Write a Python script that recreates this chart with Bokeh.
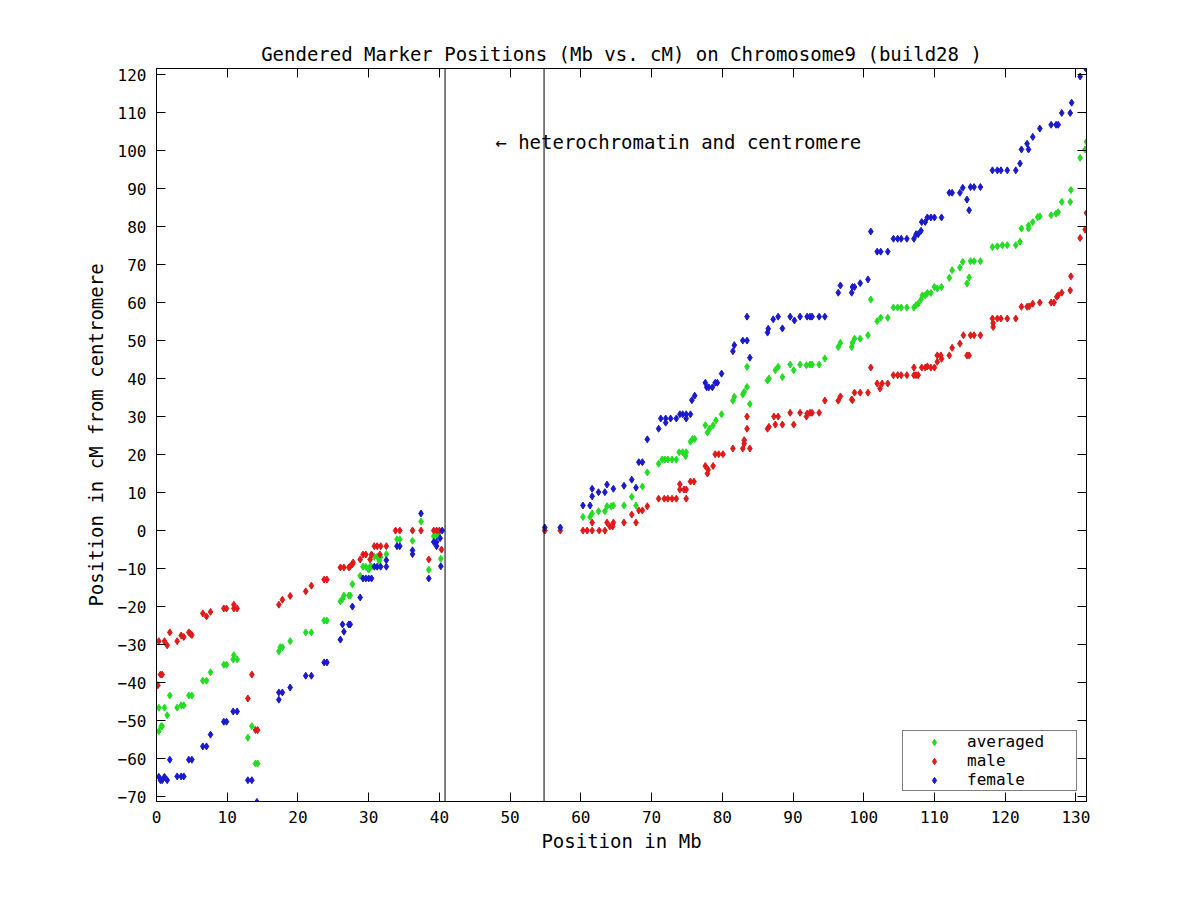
from bokeh.plotting import figure
from bokeh.models import Range1d, FixedTicker, LinearAxis, Span, Label
from bokeh.embed import file_html
from bokeh.resources import INLINE

# ---------------- data ----------------
female_x = [0.33, 0.56, 0.8, 1.13, 1.51, 1.88, 2.92, 3.49, 3.86, 4.57, 5.0, 6.55, 7.07, 7.64,
            9.52, 9.9, 10.84, 11.4, 12.92, 13.48, 14.2, 17.3, 17.3, 17.8, 18.9, 21.1, 21.9,
            23.7, 24.1, 26.0, 26.3, 26.5, 27.2, 27.4, 27.7, 28.8, 29.2, 29.6, 30.0, 30.4,
            30.8, 31.2, 31.7, 32.5, 32.5, 34.0, 34.4, 36.2, 36.2, 37.4, 38.5, 39.2, 39.6,
            39.6, 40.1, 40.2, 40.4,
            54.9, 57.1, 60.3, 61.3, 61.6, 61.6, 62.5, 63.4, 63.7, 64.6, 66.1, 67.2, 67.8,
            68.2, 68.7, 69.4, 71.0, 71.3, 72.0, 72.0, 72.7, 73.5, 74.0, 74.4, 74.9, 74.9,
            75.5, 75.7, 76.1, 77.6, 77.8, 78.1, 78.6, 79.0, 79.3, 79.9, 81.5, 81.7, 82.9,
            83.5, 83.9, 83.5, 86.4, 86.5, 87.2, 87.9, 88.5, 89.6, 90.2, 91.0, 92.0, 92.4,
            92.7, 93.7, 94.5, 96.4, 96.7, 98.3, 98.4, 98.7, 99.5, 100.6, 101.0, 101.9,
            102.4, 103.4, 104.2, 104.8, 105.3, 106.1, 107.1, 107.4, 107.7, 108.1, 108.2,
            108.7, 109.0, 109.5, 110.0, 111.0, 112.1, 112.5, 113.6, 114.0, 114.6, 114.9,
            115.1, 115.6, 116.5, 118.2, 118.9, 119.4, 120.3, 121.5, 122.1, 122.3, 123.3,
            123.1, 123.9, 124.9, 126.5, 127.2, 127.5, 128.0, 129.2, 129.4, 130.6, 131.4]
female_y = [-64.8, -65.7, -65.7, -64.8, -65.7, -60.3, -64.7, -64.7, -64.7, -60.3, -60.3, -56.8,
            -56.8, -53.7, -50.3, -50.3, -47.6, -47.6, -65.7, -65.7, -71.4, -44.5, -42.6,
            -42.6, -41.3, -38.2, -38.2, -34.7, -34.7, -28.7, -24.7, -26.6, -24.7, -24.7,
            -20.0, -17.6, -12.6, -12.6, -12.6, -12.6, -9.5, -9.5, -9.5, -9.5, -7.8, -4.1,
            -4.1, -5.2, -6.2, 4.5, -12.6, -3.0, -3.0, -4.1, -2.0, -9.4, 0.0,
            0.8, 0.8, 6.6, 6.6, 11.0, 9.0, 10.1, 10.1, 12.1, 11.0, 11.8, 13.4, 11.3, 18.0,
            18.0, 24.0, 26.8, 29.5, 29.5, 28.4, 29.5, 29.5, 30.6, 30.6, 30.6, 29.5, 30.6,
            34.3, 35.5, 38.9, 37.7, 37.7, 37.7, 38.9, 38.9, 41.3, 47.2, 48.8, 50.0, 50.0,
            45.5, 56.3, 52.1, 53.1, 55.6, 56.3, 53.2, 56.3, 55.3, 56.3, 56.3, 56.3, 56.3,
            56.3, 56.3, 62.6, 64.5, 62.6, 64.1, 64.1, 65.1, 66.1, 78.7, 73.4, 73.4, 73.4,
            76.8, 76.8, 76.8, 76.8, 76.8, 78.0, 78.0, 78.9, 81.2, 81.2, 82.4, 82.4, 82.4,
            82.4, 88.9, 88.9, 88.9, 90.2, 87.1, 84.3, 90.4, 90.4, 90.4, 94.8, 94.8, 94.8,
            94.8, 94.8, 96.6, 100.3, 100.3, 101.8, 103.6, 105.8, 106.8, 106.8, 106.8, 109.9,
            109.9, 112.6, 119.5, 121.6]

averaged_x = [0.33, 0.33, 0.66, 0.8, 1.13, 1.51, 1.88, 2.92, 3.49, 3.86, 4.57, 5.0, 6.55, 7.07,
              7.64, 9.52, 9.9, 10.84, 10.94, 11.4, 12.92, 13.48, 14.0, 14.3, 17.3, 17.5, 17.8,
              18.9, 21.1, 21.9, 23.7, 24.1, 26.0, 26.3, 26.5, 27.2, 27.4, 27.7, 28.8, 29.2,
              29.6, 30.0, 30.2, 30.4, 30.8, 31.2, 31.5, 31.7, 32.5, 34.0, 34.4, 36.2, 37.4,
              38.5, 39.2, 39.6, 39.9, 40.2,
              54.9, 60.3, 61.3, 61.6, 62.5, 63.4, 63.7, 64.3, 64.6, 66.1, 67.2, 67.8, 68.7,
              69.4, 71.0, 71.5, 71.9, 72.3, 72.9, 73.5, 73.9, 74.4, 74.8, 74.9, 75.5, 75.8,
              76.1, 77.6, 77.9, 78.2, 78.7, 79.1, 79.9, 81.5, 81.7, 82.9, 83.1, 83.5, 83.5,
              83.9, 86.4, 86.6, 87.5, 87.9, 88.5, 89.6, 90.1, 91.0, 91.9, 92.4, 92.7, 93.7,
              94.5, 96.4, 96.7, 98.3, 98.4, 98.7, 99.5, 100.6, 101.0, 101.9, 102.4, 103.4,
              104.2, 104.8, 105.3, 106.1, 107.1, 107.4, 107.7, 108.1, 108.3, 108.7, 109.0,
              109.5, 110.0, 110.4, 111.0, 112.1, 112.5, 113.6, 114.0, 114.6, 114.9, 115.1,
              115.6, 116.5, 118.2, 118.9, 119.6, 120.3, 121.5, 122.1, 122.3, 123.3, 123.3,
              123.9, 124.6, 124.9, 126.5, 127.2, 127.5, 128.0, 129.2, 129.3, 130.6, 131.3,
              131.5]
averaged_y = [-46.6, -52.8, -51.5, -51.5, -46.6, -48.6, -43.4, -46.6, -46.0, -46.0, -43.4,
              -43.4, -39.5, -39.5, -37.3, -35.3, -35.3, -33.9, -32.8, -33.9, -54.5, -51.5,
              -61.3, -61.3, -31.8, -30.7, -30.7, -29.1, -26.8, -26.8, -23.7, -23.7, -18.6,
              -18.0, -17.1, -17.1, -17.1, -14.1, -11.9, -9.5, -9.5, -10.3, -9.5, -9.5, -6.9,
              -6.9, -8.0, -6.9, -6.2, -2.3, -2.3, -2.7, 2.4, -10.3, -1.5, -1.5, -0.8, -7.4,
              0.0, 3.6, 3.6, 4.5, 5.1, 5.1, 6.4, 6.4, 6.6, 6.6, 8.9, 6.6, 11.6, 15.3, 17.6,
              18.7, 18.7, 18.7, 18.7, 18.7, 20.6, 20.6, 19.6, 20.6, 23.4, 24.1, 24.1, 27.7,
              25.8, 26.8, 27.7, 29.0, 30.6, 34.2, 35.2, 35.8, 36.5, 37.8, 43.1, 33.3, 39.5,
              40.0, 42.2, 43.1, 40.4, 43.7, 42.2, 43.7, 43.5, 43.7, 43.7, 43.7, 45.3, 48.3,
              49.4, 48.3, 49.4, 50.5, 50.5, 51.4, 60.8, 55.1, 56.0, 56.0, 58.7, 58.7, 58.7,
              58.7, 58.7, 59.3, 59.7, 60.8, 61.9, 61.9, 62.5, 62.5, 64.1, 63.7, 64.1, 66.5,
              68.5, 69.2, 70.7, 65.0, 66.6, 70.9, 70.9, 70.9, 74.6, 74.8, 75.1, 75.1, 75.1,
              76.0, 79.5, 80.3, 79.5, 81.2, 82.5, 82.7, 83.0, 83.4, 83.8, 86.5, 86.5, 89.6,
              98.1, 100.3, 102.3]

male_x = [0.19, 0.33, 0.56, 0.8, 1.13, 1.51, 1.88, 2.92, 3.49, 3.86, 4.57, 4.81, 5.0, 6.55,
          7.07, 7.64, 9.52, 9.9, 10.94, 10.94, 11.4, 12.92, 13.48, 14.0, 14.3, 17.3, 17.8,
          18.9, 21.1, 21.9, 23.7, 24.1, 26.0, 26.5, 27.2, 27.4, 27.7, 27.8, 28.8, 29.2,
          29.6, 30.2, 30.4, 30.8, 31.2, 31.6, 31.7, 32.5, 33.8, 34.4, 36.2, 37.4, 38.5,
          39.2, 39.6, 40.0, 40.3,
          54.9, 57.1, 60.3, 60.9, 61.6, 61.6, 62.6, 63.4, 63.7, 64.1, 64.5, 64.6, 66.1,
          67.2, 67.8, 68.2, 68.7, 69.4, 71.0, 71.8, 72.3, 72.9, 73.5, 74.0, 74.0, 74.6,
          74.9, 74.9, 75.5, 76.0, 77.6, 77.9, 78.0, 78.7, 79.0, 79.5, 80.1, 81.5, 82.9,
          83.1, 83.1, 83.5, 83.5, 83.9, 86.4, 86.6, 87.3, 87.5, 87.9, 88.5, 89.6, 90.1,
          91.0, 91.9, 92.0, 92.4, 92.7, 93.7, 94.5, 96.4, 96.7, 98.3, 98.4, 98.7, 99.5,
          100.6, 101.0, 101.9, 102.3, 102.6, 103.4, 104.2, 104.8, 105.3, 106.1, 107.1,
          107.4, 107.7, 107.1, 108.2, 108.7, 109.0, 109.5, 110.0, 110.4, 110.4, 110.9,
          111.0, 112.1, 112.5, 113.6, 114.1, 114.6, 114.9, 115.1, 115.6, 116.5, 118.2,
          118.3, 118.3, 118.9, 119.4, 120.3, 121.5, 122.3, 123.1, 123.4, 123.9, 124.9,
          126.5, 126.9, 127.3, 127.5, 128.0, 129.2, 129.3, 130.6, 131.3, 131.5]
male_y = [-40.7, -29.1, -37.9, -37.9, -29.1, -30.2, -26.8, -29.1, -27.6, -28.0, -26.8, -27.2,
          -27.5, -21.8, -22.6, -21.4, -20.5, -20.5, -19.5, -20.5, -20.5, -44.2, -37.9,
          -52.5, -52.5, -19.5, -18.2, -17.2, -16.0, -14.5, -12.9, -12.9, -9.7, -9.7, -9.7,
          -9.4, -8.9, -8.4, -7.6, -6.3, -6.3, -7.6, -6.3, -4.1, -4.1, -6.3, -4.1, -4.1,
          0.0, 0.0, 0.0, 0.0, -7.6, 0.0, 0.0, 0.0, -5.0,
          0.0, 0.0, 0.0, 0.0, 0.0, 2.1, 0.0, 0.0, 2.1, 1.1, 1.1, 2.1, 2.1, 4.2, 2.1, 5.3,
          5.3, 6.4, 8.4, 8.4, 8.4, 8.4, 8.4, 12.2, 10.8, 10.8, 10.8, 8.4, 12.9, 12.9, 17.0,
          15.0, 16.0, 17.0, 20.1, 20.1, 20.1, 21.6, 21.6, 22.9, 23.8, 26.8, 30.0, 21.6,
          26.8, 27.3, 30.0, 27.9, 30.0, 27.9, 31.0, 27.9, 31.0, 30.0, 30.8, 31.0, 31.0,
          31.0, 34.2, 34.2, 35.3, 34.5, 34.3, 36.3, 36.3, 36.3, 42.9, 38.7, 37.4, 38.7,
          38.7, 40.9, 40.9, 40.9, 40.9, 40.9, 40.9, 40.9, 42.9, 42.9, 42.9, 43.2, 42.9,
          42.9, 44.4, 46.1, 46.1, 45.2, 46.1, 48.1, 49.2, 51.4, 46.1, 46.1, 51.4, 51.4,
          51.4, 55.8, 54.6, 53.6, 55.8, 55.8, 55.8, 55.8, 58.9, 58.9, 59.0, 59.7, 60.0,
          60.0, 60.0, 61.5, 61.9, 62.6, 63.2, 66.9, 77.0, 79.2, 83.6]

x_ticks = [0, 10, 20, 30, 40, 50, 60, 70, 80, 90, 100, 110, 120, 130]
y_ticks = [-70, -60, -50, -40, -30, -20, -10, 0, 10, 20, 30, 40, 50, 60, 70, 80, 90, 100, 110, 120]
centromere_start = 40.8
centromere_end = 54.8
note_x, note_y = 47.9, 102.2

FONT = "DejaVu Sans Mono"
GREEN, RED, BLUE = "#22dd22", "#e01a1a", "#1a1acc"

p = figure(width=1184, height=884, output_backend="svg", toolbar_location=None,
           x_range=Range1d(0, 131.5), y_range=Range1d(-71.3, 121.6),
           min_border_left=156, min_border_right=98, min_border_top=68, min_border_bottom=83,
           title="Gendered Marker Positions (Mb vs. cM) on Chromosome9 (build28 )",
           x_axis_label="Position in Mb", y_axis_label="Position in cM from centromere")

p.grid.visible = False
p.outline_line_color = "black"
p.outline_line_width = 1
p.background_fill_color = "white"
p.border_fill_color = "white"

p.title.align = "center"
p.title.text_font = FONT
p.title.text_font_size = "19px"
p.title.text_font_style = "normal"
p.title.text_color = "black"
p.title.standoff = 7

p.xaxis.ticker = FixedTicker(ticks=x_ticks)
p.yaxis.ticker = FixedTicker(ticks=y_ticks)
for ax in (p.xaxis[0], p.yaxis[0]):
    ax.major_tick_in = 9
    ax.major_tick_out = 0
    ax.minor_tick_in = 0
    ax.minor_tick_out = 0
    ax.axis_line_color = "black"
    ax.major_tick_line_color = "black"
    ax.major_label_text_font = FONT
    ax.major_label_text_font_size = "16px"
    ax.major_label_text_color = "black"
    ax.axis_label_text_font = FONT
    ax.axis_label_text_font_size = "19px"
    ax.axis_label_text_font_style = "normal"
    ax.axis_label_text_color = "black"
p.xaxis.major_label_standoff = 9
p.xaxis.axis_label_standoff = 4
p.yaxis.major_label_standoff = 10
p.yaxis.axis_label_standoff = 8

for loc, ticks in (("above", x_ticks), ("right", y_ticks)):
    ax = LinearAxis(ticker=FixedTicker(ticks=ticks), major_tick_in=9, major_tick_out=0,
                    minor_tick_in=0, minor_tick_out=0,
                    major_label_overrides={t: "" for t in ticks},
                    major_label_standoff=0, axis_line_color="black")
    p.add_layout(ax, loc)

p.scatter(averaged_x, averaged_y, marker="diamond", size=7, color=GREEN, legend_label="averaged")
p.scatter(male_x, male_y, marker="diamond", size=7, color=RED, legend_label="male")
p.scatter(female_x, female_y, marker="diamond", size=7, color=BLUE, legend_label="female")

p.add_layout(Span(location=centromere_start, dimension="height", line_color="black", line_width=1))
p.add_layout(Span(location=centromere_end, dimension="height", line_color="black", line_width=1))
p.add_layout(Label(x=note_x, y=note_y, text="\u2190 heterochromatin and centromere",
                   text_font=FONT, text_font_size="19px", text_baseline="middle",
                   text_color="black"))

lg = p.legend[0]
lg.location = (746, 10)
lg.border_line_color = "black"
lg.border_line_width = 1
lg.background_fill_color = "white"
lg.background_fill_alpha = 1
lg.label_text_font = FONT
lg.label_text_font_size = "16px"
lg.label_text_color = "black"
lg.padding = 1
lg.spacing = 0
lg.margin = 0
lg.glyph_width = 60
lg.glyph_height = 16
lg.label_height = 16
lg.label_width = 108
lg.label_standoff = 3

open("out.html", "w").write(file_html(p, INLINE))
